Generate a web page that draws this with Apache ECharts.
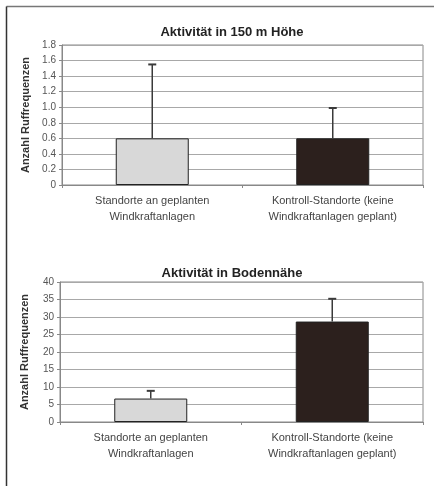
<!DOCTYPE html>
<html>
<head>
<meta charset="utf-8">
<script src="https://cdn.jsdelivr.net/npm/echarts@6/dist/echarts.min.js"></script>
<style>
  html, body { margin: 0; padding: 0; background: #fff; }
  #main { width: 434px; height: 486px; }
</style>
</head>
<body>
<div id="main"></div>
<script>
var categories = ['Standorte an geplanten\nWindkraftanlagen', 'Kontroll-Standorte (keine\nWindkraftanlagen geplant)'];
var barColors = ['#d8d8d8', '#2c201d'];

// Aktivität in 150 m Höhe
var mean150 = [0.6, 0.6];
var upper150 = [1.55, 0.99];

// Aktivität in Bodennähe
var meanBoden = [6.7, 28.7];
var upperBoden = [8.9, 35.2];

var font = 'Liberation Sans, Arial, sans-serif';

function barData(values) {
    return values.map(function(v, i) {
        return { value: v, itemStyle: { color: barColors[i] } };
    });
}

function errData(means, uppers) {
    return means.map(function(m, i) { return [i, m, uppers[i]]; });
}

// only the upper whisker is drawn, like in the original
function renderErr(params, api) {
    var base = api.coord([api.value(0), api.value(1)]);
    var top = api.coord([api.value(0), api.value(2)]);
    var cap = 4;
    return {
        type: 'group',
        children: [{
            type: 'line',
            shape: { x1: base[0], y1: base[1], x2: top[0], y2: top[1] },
            style: { stroke: '#3a3a3a', lineWidth: 1.5 }
        }, {
            type: 'line',
            shape: { x1: top[0] - cap, y1: top[1], x2: top[0] + cap, y2: top[1] },
            style: { stroke: '#3a3a3a', lineWidth: 2 }
        }]
    };
}

function makeX(gridIndex) {
    return {
        type: 'category',
        gridIndex: gridIndex,
        data: categories,
        axisLine: { lineStyle: { color: '#888' } },
        axisTick: { show: true, length: 3, lineStyle: { color: '#888' } },
        axisLabel: { color: '#444', fontFamily: font, fontSize: 11, lineHeight: 16, margin: 8 }
    };
}

function makeY(gridIndex, max, interval, fmt) {
    return {
        type: 'value',
        gridIndex: gridIndex,
        min: 0,
        max: max,
        interval: interval,
        name: 'Anzahl Ruffrequenzen',
        nameLocation: 'middle',
        nameGap: 30,
        nameTextStyle: { color: '#333', fontFamily: font, fontSize: 11, fontWeight: 'bold' },
        axisLine: { show: true, lineStyle: { color: '#888' } },
        axisTick: { show: true, length: 3, lineStyle: { color: '#888' } },
        axisLabel: { color: '#555', fontFamily: font, fontSize: 10, margin: 6, formatter: fmt },
        splitLine: { lineStyle: { color: '#a8a8a8', width: 1 } }
    };
}

var myChart = echarts.init(document.getElementById('main'));

var option = {
    backgroundColor: '#fff',
    animation: false,
    title: [{
        text: 'Aktivität in 150 m Höhe',
        left: 227, top: 21, textAlign: 'center',
        textStyle: { color: '#222', fontFamily: font, fontSize: 13, fontWeight: 'bold' }
    }, {
        text: 'Aktivität in Bodennähe',
        left: 227, top: 262, textAlign: 'center',
        textStyle: { color: '#222', fontFamily: font, fontSize: 13, fontWeight: 'bold' }
    }],
    graphic: [{
        type: 'line',
        shape: { x1: 6.5, y1: 6.5, x2: 434, y2: 6.5 },
        style: { stroke: '#777', lineWidth: 1.5 },
        silent: true
    }, {
        type: 'line',
        shape: { x1: 6.5, y1: 6.5, x2: 6.5, y2: 486 },
        style: { stroke: '#333', lineWidth: 1.5 },
        silent: true
    }],
    grid: [
        { left: 62, right: 11, top: 45, height: 140, show: true, borderColor: '#888', borderWidth: 1 },
        { left: 60, right: 11, top: 282, height: 140, show: true, borderColor: '#888', borderWidth: 1 }
    ],
    xAxis: [makeX(0), makeX(1)],
    yAxis: [
        makeY(0, 1.8, 0.2, function(v) { return v === 0 ? '0' : v.toFixed(1); }),
        makeY(1, 40, 5)
    ],
    series: [{
        type: 'bar',
        xAxisIndex: 0, yAxisIndex: 0,
        barWidth: 73,
        itemStyle: { borderColor: '#222', borderWidth: 1 },
        data: barData(mean150)
    }, {
        type: 'custom',
        xAxisIndex: 0, yAxisIndex: 0,
        renderItem: renderErr,
        data: errData(mean150, upper150),
        z: 5
    }, {
        type: 'bar',
        xAxisIndex: 1, yAxisIndex: 1,
        barWidth: 73,
        itemStyle: { borderColor: '#222', borderWidth: 1 },
        data: barData(meanBoden)
    }, {
        type: 'custom',
        xAxisIndex: 1, yAxisIndex: 1,
        renderItem: renderErr,
        data: errData(meanBoden, upperBoden),
        z: 5
    }]
};

myChart.setOption(option);
</script>
</body>
</html>
